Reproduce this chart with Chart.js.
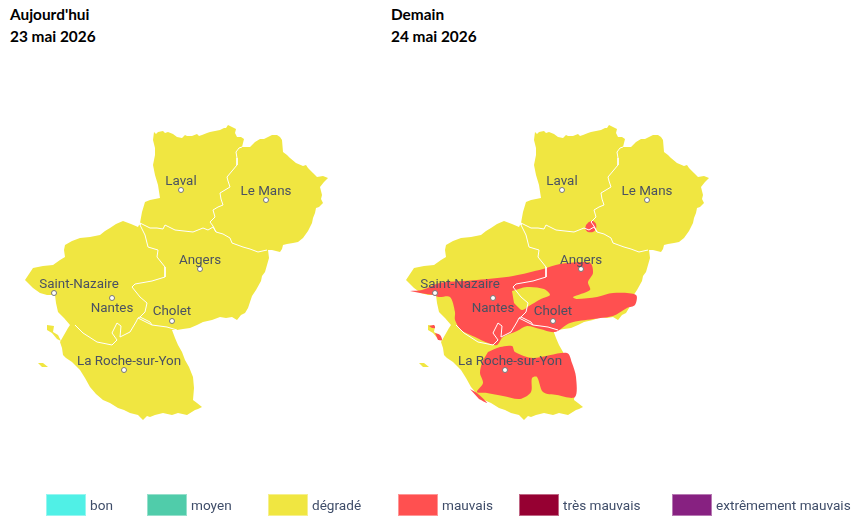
<!DOCTYPE html>
<html lang="fr">
<head>
<meta charset="utf-8">
<title>Qualité de l'air</title>
<script src="https://cdn.jsdelivr.net/npm/chart.js@4"></script>
<style>
    html, body { margin: 0; padding: 0; background: #fff; overflow: hidden; }
    body { position: relative; width: 865px; height: 523px; }
    canvas { position: absolute; top: 0; }
    #mapToday { left: 0; }
    #mapTomorrow { left: 381px; }
    .dayTitle { position: absolute; top: 3px; font: bold 15.4px/22px Lato, sans-serif; color: #000; }
    #legend { position: absolute; left: 0; top: 494px; font: 13.6px Roboto, sans-serif; color: #3f4d69; }
    #legend div { position: absolute; top: 0; display: flex; align-items: center; white-space: nowrap; }
    #legend div:nth-child(1) { left: 46px; }
    #legend div:nth-child(2) { left: 147px; }
    #legend div:nth-child(3) { left: 268px; }
    #legend div:nth-child(4) { left: 398px; }
    #legend div:nth-child(5) { left: 519px; }
    #legend div:nth-child(6) { left: 672px; }
    #legend span { width: 38px; height: 20px; margin-right: 4px; border: 1px solid rgba(255,255,255,0.4); }
</style>
</head>
<body>
<div class="dayTitle" style="left:10px">Aujourd'hui<br>23 mai 2026</div>
<div class="dayTitle" style="left:391px">Demain<br>24 mai 2026</div>
<canvas id="mapToday" width="381" height="523"></canvas>
<canvas id="mapTomorrow" width="484" height="523"></canvas>
<div id="legend"></div>
<script>
// Legend
const legendLabels = ["bon", "moyen", "dégradé", "mauvais", "très mauvais", "extrêmement mauvais"];
const legendColors = ["#50F0E6", "#50CCAA", "#F0E641", "#FF5050", "#960032", "#872181"];

// Region outline, map units
const outline = [[154,132],[156,134],[158,132],[163,131],[165,133],[168,132],[173,134],[177,137],[182,138],[185,135],[187,136],[192,136],[197,134],[199,136],[202,135],[207,133],[210,132],[215,131],[220,130],[224,128],[226,128],[228,125],[232,127],[236,129],[235,133],[237,137],[241,137],[244,139],[242,147],
    [250,147],[255,142],[260,139],[264,139],[268,137],[272,135],[277,135],[280,137],[282,140],[283,152],[287,155],[290,158],[296,163],[303,166],[306,165],[308,168],[313,173],[317,177],[323,176],[328,178],[324,182],[320,187],[322,195],[321,199],[323,203],[319,207],[316,208],[315,213],[313,218],[312,223],[308,231],[303,238],[298,242],[293,243],[287,244],[283,245],[282,249],[280,252],[272,250],[268,250],
    [269,258],[267,265],[265,272],[262,276],[261,281],[256,290],[252,296],[250,302],[248,308],[245,313],[241,315],[237,320],[232,317],[226,318],[220,317],[212,320],[203,322],[197,325],[190,328],[183,329],[177,330],[172,330],
    [175,338],[178,345],[182,352],[185,360],[189,367],[193,377],[194,388],[193,400],[197,403],[202,407],[198,409],[195,410],[187,415],[178,413],[172,415],[163,413],[155,415],[150,417],[147,416],[143,420],[138,415],[130,413],[124,410],[118,408],[110,403],[103,400],[96,394],[90,387],[85,378],[80,370],[72,362],[66,358],[63,355],[62,348],[60,342],[64,335],[68,328],
    [70,325],[64,318],[58,312],[56,303],[55,295],[47,295],[40,293],[33,288],[25,280],[29,274],[33,268],[38,267],[43,266],[53,265],[60,260],[65,257],[64,250],[65,245],[72,241],[80,238],[90,237],[100,235],[105,231],[110,228],[116,224],[123,221],[131,224],[138,227],
    [140,223],[142,212],[145,202],[150,200],[155,199],[160,198],[158,185],[155,175],[153,165],[155,155],[155,148],[153,140]];
const islandNorth = [[47,325],[54,326],[53,332],[58,335],[61,341],[57,339],[52,333],[47,330]];
const islandSouth = [[38,363],[43,363],[48,367],[42,367]];

// Inner borders between departments
const borders = [
    [[242,147],[239,148],[236,152],[237,158],[237,165],[232,171],[227,177],[228,181],[230,187],[225,190],[220,193],[221,199],[223,205],[218,207],[213,210],[215,217],[210,222],[213,226],[216,232]],
    [[216,232],[223,234],[230,238],[232,243],[243,247],[250,249],[258,252],[267,250]],
    [[140,223],[150,228],[157,228],[163,229],[165,225],[175,230],[184,231],[193,232],[203,228],[208,230],[213,227],[216,232]],
    [[140,223],[140,225],[145,235],[148,247],[158,250],[157,257],[165,267],[165,277],[152,281],[135,284],[132,287],[140,297],[147,303],[145,312],[140,317],[138,318]],
    [[138,318],[152,325],[167,327],[177,330]],
    [[140,317],[150,322],[152,325]],
    [[75,325],[83,333],[97,342],[112,345],[117,340],[112,333],[117,323],[121,326],[120,337],[130,332],[136,322],[138,318]]
];

// Air quality zones of tomorrow
const redZoneNorth = [[29,291],[41,290],[59,283],[96,280],[132,276],[162,269],[179,264],[209,263],[212,273],[207,282],[209,290],[192,297],[196,299],[216,297],[232,293],[255,295],[254,305],[246,308],[232,316],[212,319],[189,323],[174,332],[159,329],[146,326],[136,331],[122,337],[116,345],[107,343],[94,337],[80,330],[74,320],[74,312],[69,297],[58,297],[52,295],[39,293]];
const redZoneSouth = [[107,352],[119,347],[131,346],[134,352],[152,358],[186,353],[191,363],[195,377],[194,397],[176,395],[162,392],[156,377],[151,378],[150,392],[139,399],[122,396],[106,393],[96,392],[102,383],[99,373],[101,362]];
const redCoast = [[89,389],[96,393],[106,403],[98,399]];
const redIslandTop = [[48,326],[53,325],[54,328],[51,328]];
const redIslandBottom = [[54,333],[59,335],[61,340],[57,340]];
const redSpot = [[205,225],[208,222],[212,221],[215,224],[215,229],[212,232],[207,232],[204,229]];
const yellowPocket = [[131,291],[146,287],[163,289],[169,295],[160,299],[148,306],[141,310],[133,303]];

// Cities
const cityNames = ["Laval", "Le Mans", "Angers", "Saint-Nazaire", "Nantes", "Cholet", "La Roche-sur-Yon"];
const cityX = [181, 266, 200, 54, 112, 172, 124];
const cityY = [190, 200, 269, 293, 298, 321, 370];
const cityLabelX = [181, 266, 200, 79, 112, 172, 129];
const cityLabelY = [181.5, 191.5, 261, 285, 309, 312, 362];

const YELLOW = legendColors[2];
const RED = legendColors[3];

function toPoints(list) {
    return list.map(function (p) { return { x: p[0], y: p[1] }; });
}

function area(list, color, tension) {
    return { data: toPoints(list), showLine: true, fill: "shape", backgroundColor: color, borderWidth: 0, pointRadius: 0, tension: tension || 0 };
}

const cityLabels = {
    id: "cityLabels",
    afterDatasetsDraw: function (chart) {
        const ctx = chart.ctx;
        ctx.save();
        ctx.font = "13.4px Roboto, sans-serif";
        ctx.fillStyle = "#4a5162";
        ctx.textAlign = "center";
        ctx.textBaseline = "middle";
        cityNames.forEach(function (name, i) {
            ctx.fillText(name, chart.scales.x.getPixelForValue(cityLabelX[i]), chart.scales.y.getPixelForValue(cityLabelY[i]));
        });
        ctx.restore();
    }
};

function drawMap(canvasId, zones, pocket, width) {
    // back to front, chart.js paints the first dataset last
    let layers = [area(outline, YELLOW), area(islandNorth, YELLOW), area(islandSouth, YELLOW)];
    zones.forEach(function (z) { layers.push(area(z, RED, 0.3)); });
    pocket.forEach(function (z) { layers.push(area(z, YELLOW, 0.3)); });
    borders.forEach(function (b) {
        layers.push({ data: toPoints(b), showLine: true, fill: false, borderColor: "#fff", borderWidth: 1, pointRadius: 0 });
    });
    layers.push({
        data: cityX.map(function (x, i) { return { x: x, y: cityY[i] }; }),
        showLine: false,
        pointRadius: 2.5,
        pointBackgroundColor: "#fff",
        pointBorderColor: "#777",
        pointBorderWidth: 1
    });
    new Chart(document.getElementById(canvasId), {
        type: "scatter",
        data: { datasets: layers.reverse() },
        options: {
            responsive: false,
            animation: false,
            layout: { padding: 0, autoPadding: false },
            plugins: { legend: { display: false }, tooltip: { enabled: false } },
            scales: {
                x: { type: "linear", display: false, min: 0, max: width },
                y: { type: "linear", display: false, min: 0, max: 523, reverse: true }
            }
        },
        plugins: [cityLabels]
    });
}

drawMap("mapToday", [], [], 381);
drawMap("mapTomorrow", [redZoneNorth, redZoneSouth, redCoast, redIslandTop, redIslandBottom, redSpot], [yellowPocket], 484);

// Legend
const legendBox = document.getElementById("legend");
legendLabels.forEach(function (label, i) {
    const item = document.createElement("div");
    const swatch = document.createElement("span");
    swatch.style.background = legendColors[i];
    item.appendChild(swatch);
    item.appendChild(document.createTextNode(label));
    legendBox.appendChild(item);
});
</script>
</body>
</html>
